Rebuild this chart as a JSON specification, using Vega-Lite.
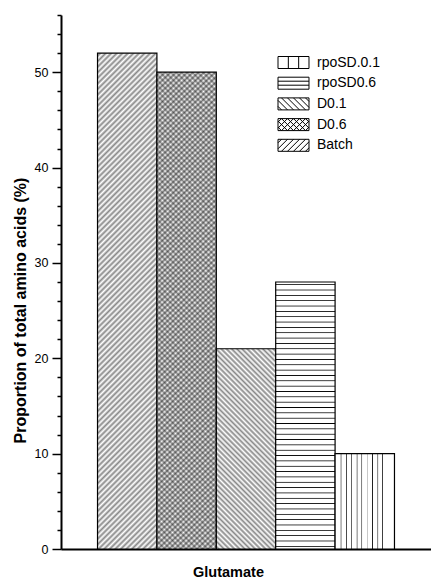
{
"$schema":"https://vega.github.io/schema/vega-lite/v6.json",
"width":370,"height":534,
"autosize":{"type":"none"},
"padding":{"left":61,"top":15,"right":0,"bottom":29},
"background":"white",
"config":{"view":{"stroke":null}},
"params":[
{"name":"gS","value":{"gradient":"linear","x1":0,"y1":0,"x2":0.1322,"y2":1.104,"stops":[
{"offset":0,"color":"#fff"},{"offset":0.005,"color":"#888"},{"offset":0.01,"color":"#fff"},{"offset":0.015,"color":"#888"},{"offset":0.02,"color":"#fff"},{"offset":0.025,"color":"#888"},{"offset":0.03,"color":"#fff"},{"offset":0.035,"color":"#888"},{"offset":0.04,"color":"#fff"},{"offset":0.045,"color":"#888"},
{"offset":0.05,"color":"#fff"},{"offset":0.055,"color":"#888"},{"offset":0.06,"color":"#fff"},{"offset":0.065,"color":"#888"},{"offset":0.07,"color":"#fff"},{"offset":0.075,"color":"#888"},{"offset":0.08,"color":"#fff"},{"offset":0.085,"color":"#888"},{"offset":0.09,"color":"#fff"},{"offset":0.095,"color":"#888"},
{"offset":0.1,"color":"#fff"},{"offset":0.105,"color":"#888"},{"offset":0.11,"color":"#fff"},{"offset":0.115,"color":"#888"},{"offset":0.12,"color":"#fff"},{"offset":0.125,"color":"#888"},{"offset":0.13,"color":"#fff"},{"offset":0.135,"color":"#888"},{"offset":0.14,"color":"#fff"},{"offset":0.145,"color":"#888"},
{"offset":0.15,"color":"#fff"},{"offset":0.155,"color":"#888"},{"offset":0.16,"color":"#fff"},{"offset":0.165,"color":"#888"},{"offset":0.17,"color":"#fff"},{"offset":0.175,"color":"#888"},{"offset":0.18,"color":"#fff"},{"offset":0.185,"color":"#888"},{"offset":0.19,"color":"#fff"},{"offset":0.195,"color":"#888"},
{"offset":0.2,"color":"#fff"},{"offset":0.205,"color":"#888"},{"offset":0.21,"color":"#fff"},{"offset":0.215,"color":"#888"},{"offset":0.22,"color":"#fff"},{"offset":0.225,"color":"#888"},{"offset":0.23,"color":"#fff"},{"offset":0.235,"color":"#888"},{"offset":0.24,"color":"#fff"},{"offset":0.245,"color":"#888"},
{"offset":0.25,"color":"#fff"},{"offset":0.255,"color":"#888"},{"offset":0.26,"color":"#fff"},{"offset":0.265,"color":"#888"},{"offset":0.27,"color":"#fff"},{"offset":0.275,"color":"#888"},{"offset":0.28,"color":"#fff"},{"offset":0.285,"color":"#888"},{"offset":0.29,"color":"#fff"},{"offset":0.295,"color":"#888"},
{"offset":0.3,"color":"#fff"},{"offset":0.305,"color":"#888"},{"offset":0.31,"color":"#fff"},{"offset":0.315,"color":"#888"},{"offset":0.32,"color":"#fff"},{"offset":0.325,"color":"#888"},{"offset":0.33,"color":"#fff"},{"offset":0.335,"color":"#888"},{"offset":0.34,"color":"#fff"},{"offset":0.345,"color":"#888"},
{"offset":0.35,"color":"#fff"},{"offset":0.355,"color":"#888"},{"offset":0.36,"color":"#fff"},{"offset":0.365,"color":"#888"},{"offset":0.37,"color":"#fff"},{"offset":0.375,"color":"#888"},{"offset":0.38,"color":"#fff"},{"offset":0.385,"color":"#888"},{"offset":0.39,"color":"#fff"},{"offset":0.395,"color":"#888"},
{"offset":0.4,"color":"#fff"},{"offset":0.405,"color":"#888"},{"offset":0.41,"color":"#fff"},{"offset":0.415,"color":"#888"},{"offset":0.42,"color":"#fff"},{"offset":0.425,"color":"#888"},{"offset":0.43,"color":"#fff"},{"offset":0.435,"color":"#888"},{"offset":0.44,"color":"#fff"},{"offset":0.445,"color":"#888"},
{"offset":0.45,"color":"#fff"},{"offset":0.455,"color":"#888"},{"offset":0.46,"color":"#fff"},{"offset":0.465,"color":"#888"},{"offset":0.47,"color":"#fff"},{"offset":0.475,"color":"#888"},{"offset":0.48,"color":"#fff"},{"offset":0.485,"color":"#888"},{"offset":0.49,"color":"#fff"},{"offset":0.495,"color":"#888"},
{"offset":0.5,"color":"#fff"},{"offset":0.505,"color":"#888"},{"offset":0.51,"color":"#fff"},{"offset":0.515,"color":"#888"},{"offset":0.52,"color":"#fff"},{"offset":0.525,"color":"#888"},{"offset":0.53,"color":"#fff"},{"offset":0.535,"color":"#888"},{"offset":0.54,"color":"#fff"},{"offset":0.545,"color":"#888"},
{"offset":0.55,"color":"#fff"},{"offset":0.555,"color":"#888"},{"offset":0.56,"color":"#fff"},{"offset":0.565,"color":"#888"},{"offset":0.57,"color":"#fff"},{"offset":0.575,"color":"#888"},{"offset":0.58,"color":"#fff"},{"offset":0.585,"color":"#888"},{"offset":0.59,"color":"#fff"},{"offset":0.595,"color":"#888"},
{"offset":0.6,"color":"#fff"},{"offset":0.605,"color":"#888"},{"offset":0.61,"color":"#fff"},{"offset":0.615,"color":"#888"},{"offset":0.62,"color":"#fff"},{"offset":0.625,"color":"#888"},{"offset":0.63,"color":"#fff"},{"offset":0.635,"color":"#888"},{"offset":0.64,"color":"#fff"},{"offset":0.645,"color":"#888"},
{"offset":0.65,"color":"#fff"},{"offset":0.655,"color":"#888"},{"offset":0.66,"color":"#fff"},{"offset":0.665,"color":"#888"},{"offset":0.67,"color":"#fff"},{"offset":0.675,"color":"#888"},{"offset":0.68,"color":"#fff"},{"offset":0.685,"color":"#888"},{"offset":0.69,"color":"#fff"},{"offset":0.695,"color":"#888"},
{"offset":0.7,"color":"#fff"},{"offset":0.705,"color":"#888"},{"offset":0.71,"color":"#fff"},{"offset":0.715,"color":"#888"},{"offset":0.72,"color":"#fff"},{"offset":0.725,"color":"#888"},{"offset":0.73,"color":"#fff"},{"offset":0.735,"color":"#888"},{"offset":0.74,"color":"#fff"},{"offset":0.745,"color":"#888"},
{"offset":0.75,"color":"#fff"},{"offset":0.755,"color":"#888"},{"offset":0.76,"color":"#fff"},{"offset":0.765,"color":"#888"},{"offset":0.77,"color":"#fff"},{"offset":0.775,"color":"#888"},{"offset":0.78,"color":"#fff"},{"offset":0.785,"color":"#888"},{"offset":0.79,"color":"#fff"},{"offset":0.795,"color":"#888"},
{"offset":0.8,"color":"#fff"},{"offset":0.805,"color":"#888"},{"offset":0.81,"color":"#fff"},{"offset":0.815,"color":"#888"},{"offset":0.82,"color":"#fff"},{"offset":0.825,"color":"#888"},{"offset":0.83,"color":"#fff"},{"offset":0.835,"color":"#888"},{"offset":0.84,"color":"#fff"},{"offset":0.845,"color":"#888"},
{"offset":0.85,"color":"#fff"},{"offset":0.855,"color":"#888"},{"offset":0.86,"color":"#fff"},{"offset":0.865,"color":"#888"},{"offset":0.87,"color":"#fff"},{"offset":0.875,"color":"#888"},{"offset":0.88,"color":"#fff"},{"offset":0.885,"color":"#888"},{"offset":0.89,"color":"#fff"},{"offset":0.895,"color":"#888"},
{"offset":0.9,"color":"#fff"},{"offset":0.905,"color":"#888"},{"offset":0.91,"color":"#fff"},{"offset":0.915,"color":"#888"},{"offset":0.92,"color":"#fff"},{"offset":0.925,"color":"#888"},{"offset":0.93,"color":"#fff"},{"offset":0.935,"color":"#888"},{"offset":0.94,"color":"#fff"},{"offset":0.945,"color":"#888"},
{"offset":0.95,"color":"#fff"},{"offset":0.955,"color":"#888"},{"offset":0.96,"color":"#fff"},{"offset":0.965,"color":"#888"},{"offset":0.97,"color":"#fff"},{"offset":0.975,"color":"#888"},{"offset":0.98,"color":"#fff"},{"offset":0.985,"color":"#888"},{"offset":0.99,"color":"#fff"},{"offset":0.995,"color":"#888"},
{"offset":1,"color":"#fff"}]}},
{"name":"gX","value":{"gradient":"linear","x1":1,"y1":0,"x2":0.862,"y2":1.1075,"stops":[
{"offset":0,"color":"transparent"},{"offset":0.005,"color":"rgba(0,0,0,0.4)"},{"offset":0.01,"color":"transparent"},{"offset":0.015,"color":"rgba(0,0,0,0.4)"},{"offset":0.02,"color":"transparent"},{"offset":0.025,"color":"rgba(0,0,0,0.4)"},{"offset":0.03,"color":"transparent"},{"offset":0.035,"color":"rgba(0,0,0,0.4)"},{"offset":0.04,"color":"transparent"},{"offset":0.045,"color":"rgba(0,0,0,0.4)"},
{"offset":0.05,"color":"transparent"},{"offset":0.055,"color":"rgba(0,0,0,0.4)"},{"offset":0.06,"color":"transparent"},{"offset":0.065,"color":"rgba(0,0,0,0.4)"},{"offset":0.07,"color":"transparent"},{"offset":0.075,"color":"rgba(0,0,0,0.4)"},{"offset":0.08,"color":"transparent"},{"offset":0.085,"color":"rgba(0,0,0,0.4)"},{"offset":0.09,"color":"transparent"},{"offset":0.095,"color":"rgba(0,0,0,0.4)"},
{"offset":0.1,"color":"transparent"},{"offset":0.105,"color":"rgba(0,0,0,0.4)"},{"offset":0.11,"color":"transparent"},{"offset":0.115,"color":"rgba(0,0,0,0.4)"},{"offset":0.12,"color":"transparent"},{"offset":0.125,"color":"rgba(0,0,0,0.4)"},{"offset":0.13,"color":"transparent"},{"offset":0.135,"color":"rgba(0,0,0,0.4)"},{"offset":0.14,"color":"transparent"},{"offset":0.145,"color":"rgba(0,0,0,0.4)"},
{"offset":0.15,"color":"transparent"},{"offset":0.155,"color":"rgba(0,0,0,0.4)"},{"offset":0.16,"color":"transparent"},{"offset":0.165,"color":"rgba(0,0,0,0.4)"},{"offset":0.17,"color":"transparent"},{"offset":0.175,"color":"rgba(0,0,0,0.4)"},{"offset":0.18,"color":"transparent"},{"offset":0.185,"color":"rgba(0,0,0,0.4)"},{"offset":0.19,"color":"transparent"},{"offset":0.195,"color":"rgba(0,0,0,0.4)"},
{"offset":0.2,"color":"transparent"},{"offset":0.205,"color":"rgba(0,0,0,0.4)"},{"offset":0.21,"color":"transparent"},{"offset":0.215,"color":"rgba(0,0,0,0.4)"},{"offset":0.22,"color":"transparent"},{"offset":0.225,"color":"rgba(0,0,0,0.4)"},{"offset":0.23,"color":"transparent"},{"offset":0.235,"color":"rgba(0,0,0,0.4)"},{"offset":0.24,"color":"transparent"},{"offset":0.245,"color":"rgba(0,0,0,0.4)"},
{"offset":0.25,"color":"transparent"},{"offset":0.255,"color":"rgba(0,0,0,0.4)"},{"offset":0.26,"color":"transparent"},{"offset":0.265,"color":"rgba(0,0,0,0.4)"},{"offset":0.27,"color":"transparent"},{"offset":0.275,"color":"rgba(0,0,0,0.4)"},{"offset":0.28,"color":"transparent"},{"offset":0.285,"color":"rgba(0,0,0,0.4)"},{"offset":0.29,"color":"transparent"},{"offset":0.295,"color":"rgba(0,0,0,0.4)"},
{"offset":0.3,"color":"transparent"},{"offset":0.305,"color":"rgba(0,0,0,0.4)"},{"offset":0.31,"color":"transparent"},{"offset":0.315,"color":"rgba(0,0,0,0.4)"},{"offset":0.32,"color":"transparent"},{"offset":0.325,"color":"rgba(0,0,0,0.4)"},{"offset":0.33,"color":"transparent"},{"offset":0.335,"color":"rgba(0,0,0,0.4)"},{"offset":0.34,"color":"transparent"},{"offset":0.345,"color":"rgba(0,0,0,0.4)"},
{"offset":0.35,"color":"transparent"},{"offset":0.355,"color":"rgba(0,0,0,0.4)"},{"offset":0.36,"color":"transparent"},{"offset":0.365,"color":"rgba(0,0,0,0.4)"},{"offset":0.37,"color":"transparent"},{"offset":0.375,"color":"rgba(0,0,0,0.4)"},{"offset":0.38,"color":"transparent"},{"offset":0.385,"color":"rgba(0,0,0,0.4)"},{"offset":0.39,"color":"transparent"},{"offset":0.395,"color":"rgba(0,0,0,0.4)"},
{"offset":0.4,"color":"transparent"},{"offset":0.405,"color":"rgba(0,0,0,0.4)"},{"offset":0.41,"color":"transparent"},{"offset":0.415,"color":"rgba(0,0,0,0.4)"},{"offset":0.42,"color":"transparent"},{"offset":0.425,"color":"rgba(0,0,0,0.4)"},{"offset":0.43,"color":"transparent"},{"offset":0.435,"color":"rgba(0,0,0,0.4)"},{"offset":0.44,"color":"transparent"},{"offset":0.445,"color":"rgba(0,0,0,0.4)"},
{"offset":0.45,"color":"transparent"},{"offset":0.455,"color":"rgba(0,0,0,0.4)"},{"offset":0.46,"color":"transparent"},{"offset":0.465,"color":"rgba(0,0,0,0.4)"},{"offset":0.47,"color":"transparent"},{"offset":0.475,"color":"rgba(0,0,0,0.4)"},{"offset":0.48,"color":"transparent"},{"offset":0.485,"color":"rgba(0,0,0,0.4)"},{"offset":0.49,"color":"transparent"},{"offset":0.495,"color":"rgba(0,0,0,0.4)"},
{"offset":0.5,"color":"transparent"},{"offset":0.505,"color":"rgba(0,0,0,0.4)"},{"offset":0.51,"color":"transparent"},{"offset":0.515,"color":"rgba(0,0,0,0.4)"},{"offset":0.52,"color":"transparent"},{"offset":0.525,"color":"rgba(0,0,0,0.4)"},{"offset":0.53,"color":"transparent"},{"offset":0.535,"color":"rgba(0,0,0,0.4)"},{"offset":0.54,"color":"transparent"},{"offset":0.545,"color":"rgba(0,0,0,0.4)"},
{"offset":0.55,"color":"transparent"},{"offset":0.555,"color":"rgba(0,0,0,0.4)"},{"offset":0.56,"color":"transparent"},{"offset":0.565,"color":"rgba(0,0,0,0.4)"},{"offset":0.57,"color":"transparent"},{"offset":0.575,"color":"rgba(0,0,0,0.4)"},{"offset":0.58,"color":"transparent"},{"offset":0.585,"color":"rgba(0,0,0,0.4)"},{"offset":0.59,"color":"transparent"},{"offset":0.595,"color":"rgba(0,0,0,0.4)"},
{"offset":0.6,"color":"transparent"},{"offset":0.605,"color":"rgba(0,0,0,0.4)"},{"offset":0.61,"color":"transparent"},{"offset":0.615,"color":"rgba(0,0,0,0.4)"},{"offset":0.62,"color":"transparent"},{"offset":0.625,"color":"rgba(0,0,0,0.4)"},{"offset":0.63,"color":"transparent"},{"offset":0.635,"color":"rgba(0,0,0,0.4)"},{"offset":0.64,"color":"transparent"},{"offset":0.645,"color":"rgba(0,0,0,0.4)"},
{"offset":0.65,"color":"transparent"},{"offset":0.655,"color":"rgba(0,0,0,0.4)"},{"offset":0.66,"color":"transparent"},{"offset":0.665,"color":"rgba(0,0,0,0.4)"},{"offset":0.67,"color":"transparent"},{"offset":0.675,"color":"rgba(0,0,0,0.4)"},{"offset":0.68,"color":"transparent"},{"offset":0.685,"color":"rgba(0,0,0,0.4)"},{"offset":0.69,"color":"transparent"},{"offset":0.695,"color":"rgba(0,0,0,0.4)"},
{"offset":0.7,"color":"transparent"},{"offset":0.705,"color":"rgba(0,0,0,0.4)"},{"offset":0.71,"color":"transparent"},{"offset":0.715,"color":"rgba(0,0,0,0.4)"},{"offset":0.72,"color":"transparent"},{"offset":0.725,"color":"rgba(0,0,0,0.4)"},{"offset":0.73,"color":"transparent"},{"offset":0.735,"color":"rgba(0,0,0,0.4)"},{"offset":0.74,"color":"transparent"},{"offset":0.745,"color":"rgba(0,0,0,0.4)"},
{"offset":0.75,"color":"transparent"},{"offset":0.755,"color":"rgba(0,0,0,0.4)"},{"offset":0.76,"color":"transparent"},{"offset":0.765,"color":"rgba(0,0,0,0.4)"},{"offset":0.77,"color":"transparent"},{"offset":0.775,"color":"rgba(0,0,0,0.4)"},{"offset":0.78,"color":"transparent"},{"offset":0.785,"color":"rgba(0,0,0,0.4)"},{"offset":0.79,"color":"transparent"},{"offset":0.795,"color":"rgba(0,0,0,0.4)"},
{"offset":0.8,"color":"transparent"},{"offset":0.805,"color":"rgba(0,0,0,0.4)"},{"offset":0.81,"color":"transparent"},{"offset":0.815,"color":"rgba(0,0,0,0.4)"},{"offset":0.82,"color":"transparent"},{"offset":0.825,"color":"rgba(0,0,0,0.4)"},{"offset":0.83,"color":"transparent"},{"offset":0.835,"color":"rgba(0,0,0,0.4)"},{"offset":0.84,"color":"transparent"},{"offset":0.845,"color":"rgba(0,0,0,0.4)"},
{"offset":0.85,"color":"transparent"},{"offset":0.855,"color":"rgba(0,0,0,0.4)"},{"offset":0.86,"color":"transparent"},{"offset":0.865,"color":"rgba(0,0,0,0.4)"},{"offset":0.87,"color":"transparent"},{"offset":0.875,"color":"rgba(0,0,0,0.4)"},{"offset":0.88,"color":"transparent"},{"offset":0.885,"color":"rgba(0,0,0,0.4)"},{"offset":0.89,"color":"transparent"},{"offset":0.895,"color":"rgba(0,0,0,0.4)"},
{"offset":0.9,"color":"transparent"},{"offset":0.905,"color":"rgba(0,0,0,0.4)"},{"offset":0.91,"color":"transparent"},{"offset":0.915,"color":"rgba(0,0,0,0.4)"},{"offset":0.92,"color":"transparent"},{"offset":0.925,"color":"rgba(0,0,0,0.4)"},{"offset":0.93,"color":"transparent"},{"offset":0.935,"color":"rgba(0,0,0,0.4)"},{"offset":0.94,"color":"transparent"},{"offset":0.945,"color":"rgba(0,0,0,0.4)"},
{"offset":0.95,"color":"transparent"},{"offset":0.955,"color":"rgba(0,0,0,0.4)"},{"offset":0.96,"color":"transparent"},{"offset":0.965,"color":"rgba(0,0,0,0.4)"},{"offset":0.97,"color":"transparent"},{"offset":0.975,"color":"rgba(0,0,0,0.4)"},{"offset":0.98,"color":"transparent"},{"offset":0.985,"color":"rgba(0,0,0,0.4)"},{"offset":0.99,"color":"transparent"},{"offset":0.995,"color":"rgba(0,0,0,0.4)"},
{"offset":1,"color":"transparent"}]}},
{"name":"gD","value":{"gradient":"linear","x1":1,"y1":0,"x2":0.6466,"y2":1.1918,"stops":[
{"offset":0,"color":"#fff"},{"offset":0.01,"color":"#888"},{"offset":0.02,"color":"#fff"},{"offset":0.03,"color":"#888"},{"offset":0.04,"color":"#fff"},{"offset":0.05,"color":"#888"},{"offset":0.06,"color":"#fff"},{"offset":0.07,"color":"#888"},{"offset":0.08,"color":"#fff"},{"offset":0.09,"color":"#888"},
{"offset":0.1,"color":"#fff"},{"offset":0.11,"color":"#888"},{"offset":0.12,"color":"#fff"},{"offset":0.13,"color":"#888"},{"offset":0.14,"color":"#fff"},{"offset":0.15,"color":"#888"},{"offset":0.16,"color":"#fff"},{"offset":0.17,"color":"#888"},{"offset":0.18,"color":"#fff"},{"offset":0.19,"color":"#888"},
{"offset":0.2,"color":"#fff"},{"offset":0.21,"color":"#888"},{"offset":0.22,"color":"#fff"},{"offset":0.23,"color":"#888"},{"offset":0.24,"color":"#fff"},{"offset":0.25,"color":"#888"},{"offset":0.26,"color":"#fff"},{"offset":0.27,"color":"#888"},{"offset":0.28,"color":"#fff"},{"offset":0.29,"color":"#888"},
{"offset":0.3,"color":"#fff"},{"offset":0.31,"color":"#888"},{"offset":0.32,"color":"#fff"},{"offset":0.33,"color":"#888"},{"offset":0.34,"color":"#fff"},{"offset":0.35,"color":"#888"},{"offset":0.36,"color":"#fff"},{"offset":0.37,"color":"#888"},{"offset":0.38,"color":"#fff"},{"offset":0.39,"color":"#888"},
{"offset":0.4,"color":"#fff"},{"offset":0.41,"color":"#888"},{"offset":0.42,"color":"#fff"},{"offset":0.43,"color":"#888"},{"offset":0.44,"color":"#fff"},{"offset":0.45,"color":"#888"},{"offset":0.46,"color":"#fff"},{"offset":0.47,"color":"#888"},{"offset":0.48,"color":"#fff"},{"offset":0.49,"color":"#888"},
{"offset":0.5,"color":"#fff"},{"offset":0.51,"color":"#888"},{"offset":0.52,"color":"#fff"},{"offset":0.53,"color":"#888"},{"offset":0.54,"color":"#fff"},{"offset":0.55,"color":"#888"},{"offset":0.56,"color":"#fff"},{"offset":0.57,"color":"#888"},{"offset":0.58,"color":"#fff"},{"offset":0.59,"color":"#888"},
{"offset":0.6,"color":"#fff"},{"offset":0.61,"color":"#888"},{"offset":0.62,"color":"#fff"},{"offset":0.63,"color":"#888"},{"offset":0.64,"color":"#fff"},{"offset":0.65,"color":"#888"},{"offset":0.66,"color":"#fff"},{"offset":0.67,"color":"#888"},{"offset":0.68,"color":"#fff"},{"offset":0.69,"color":"#888"},
{"offset":0.7,"color":"#fff"},{"offset":0.71,"color":"#888"},{"offset":0.72,"color":"#fff"},{"offset":0.73,"color":"#888"},{"offset":0.74,"color":"#fff"},{"offset":0.75,"color":"#888"},{"offset":0.76,"color":"#fff"},{"offset":0.77,"color":"#888"},{"offset":0.78,"color":"#fff"},{"offset":0.79,"color":"#888"},
{"offset":0.8,"color":"#fff"},{"offset":0.81,"color":"#888"},{"offset":0.82,"color":"#fff"},{"offset":0.83,"color":"#888"},{"offset":0.84,"color":"#fff"},{"offset":0.85,"color":"#888"},{"offset":0.86,"color":"#fff"},{"offset":0.87,"color":"#888"},{"offset":0.88,"color":"#fff"},{"offset":0.89,"color":"#888"},
{"offset":0.9,"color":"#fff"},{"offset":0.91,"color":"#888"},{"offset":0.92,"color":"#fff"},{"offset":0.93,"color":"#888"},{"offset":0.94,"color":"#fff"},{"offset":0.95,"color":"#888"},{"offset":0.96,"color":"#fff"},{"offset":0.97,"color":"#888"},{"offset":0.98,"color":"#fff"},{"offset":0.99,"color":"#888"},
{"offset":1,"color":"#fff"}]}},
{"name":"gH","value":{"gradient":"linear","x1":0,"y1":0,"x2":0,"y2":1,"stops":[
{"offset":0.007,"color":"#fff"},{"offset":0.01,"color":"#000"},{"offset":0.013,"color":"#fff"},{"offset":0.027,"color":"#fff"},{"offset":0.03,"color":"#000"},{"offset":0.033,"color":"#fff"},
{"offset":0.047,"color":"#fff"},{"offset":0.05,"color":"#000"},{"offset":0.053,"color":"#fff"},{"offset":0.067,"color":"#fff"},{"offset":0.07,"color":"#000"},{"offset":0.073,"color":"#fff"},
{"offset":0.087,"color":"#fff"},{"offset":0.09,"color":"#000"},{"offset":0.093,"color":"#fff"},{"offset":0.107,"color":"#fff"},{"offset":0.11,"color":"#000"},{"offset":0.113,"color":"#fff"},
{"offset":0.127,"color":"#fff"},{"offset":0.13,"color":"#000"},{"offset":0.133,"color":"#fff"},{"offset":0.147,"color":"#fff"},{"offset":0.15,"color":"#000"},{"offset":0.153,"color":"#fff"},
{"offset":0.167,"color":"#fff"},{"offset":0.17,"color":"#000"},{"offset":0.173,"color":"#fff"},{"offset":0.187,"color":"#fff"},{"offset":0.19,"color":"#000"},{"offset":0.193,"color":"#fff"},
{"offset":0.207,"color":"#fff"},{"offset":0.21,"color":"#000"},{"offset":0.213,"color":"#fff"},{"offset":0.227,"color":"#fff"},{"offset":0.23,"color":"#000"},{"offset":0.233,"color":"#fff"},
{"offset":0.247,"color":"#fff"},{"offset":0.25,"color":"#000"},{"offset":0.253,"color":"#fff"},{"offset":0.267,"color":"#fff"},{"offset":0.27,"color":"#000"},{"offset":0.273,"color":"#fff"},
{"offset":0.287,"color":"#fff"},{"offset":0.29,"color":"#000"},{"offset":0.293,"color":"#fff"},{"offset":0.307,"color":"#fff"},{"offset":0.31,"color":"#000"},{"offset":0.313,"color":"#fff"},
{"offset":0.327,"color":"#fff"},{"offset":0.33,"color":"#000"},{"offset":0.333,"color":"#fff"},{"offset":0.347,"color":"#fff"},{"offset":0.35,"color":"#000"},{"offset":0.353,"color":"#fff"},
{"offset":0.367,"color":"#fff"},{"offset":0.37,"color":"#000"},{"offset":0.373,"color":"#fff"},{"offset":0.387,"color":"#fff"},{"offset":0.39,"color":"#000"},{"offset":0.393,"color":"#fff"},
{"offset":0.407,"color":"#fff"},{"offset":0.41,"color":"#000"},{"offset":0.413,"color":"#fff"},{"offset":0.427,"color":"#fff"},{"offset":0.43,"color":"#000"},{"offset":0.433,"color":"#fff"},
{"offset":0.447,"color":"#fff"},{"offset":0.45,"color":"#000"},{"offset":0.453,"color":"#fff"},{"offset":0.467,"color":"#fff"},{"offset":0.47,"color":"#000"},{"offset":0.473,"color":"#fff"},
{"offset":0.487,"color":"#fff"},{"offset":0.49,"color":"#000"},{"offset":0.493,"color":"#fff"},{"offset":0.507,"color":"#fff"},{"offset":0.51,"color":"#000"},{"offset":0.513,"color":"#fff"},
{"offset":0.527,"color":"#fff"},{"offset":0.53,"color":"#000"},{"offset":0.533,"color":"#fff"},{"offset":0.547,"color":"#fff"},{"offset":0.55,"color":"#000"},{"offset":0.553,"color":"#fff"},
{"offset":0.567,"color":"#fff"},{"offset":0.57,"color":"#000"},{"offset":0.573,"color":"#fff"},{"offset":0.587,"color":"#fff"},{"offset":0.59,"color":"#000"},{"offset":0.593,"color":"#fff"},
{"offset":0.607,"color":"#fff"},{"offset":0.61,"color":"#000"},{"offset":0.613,"color":"#fff"},{"offset":0.627,"color":"#fff"},{"offset":0.63,"color":"#000"},{"offset":0.633,"color":"#fff"},
{"offset":0.647,"color":"#fff"},{"offset":0.65,"color":"#000"},{"offset":0.653,"color":"#fff"},{"offset":0.667,"color":"#fff"},{"offset":0.67,"color":"#000"},{"offset":0.673,"color":"#fff"},
{"offset":0.687,"color":"#fff"},{"offset":0.69,"color":"#000"},{"offset":0.693,"color":"#fff"},{"offset":0.707,"color":"#fff"},{"offset":0.71,"color":"#000"},{"offset":0.713,"color":"#fff"},
{"offset":0.727,"color":"#fff"},{"offset":0.73,"color":"#000"},{"offset":0.733,"color":"#fff"},{"offset":0.747,"color":"#fff"},{"offset":0.75,"color":"#000"},{"offset":0.753,"color":"#fff"},
{"offset":0.767,"color":"#fff"},{"offset":0.77,"color":"#000"},{"offset":0.773,"color":"#fff"},{"offset":0.787,"color":"#fff"},{"offset":0.79,"color":"#000"},{"offset":0.793,"color":"#fff"},
{"offset":0.807,"color":"#fff"},{"offset":0.81,"color":"#000"},{"offset":0.813,"color":"#fff"},{"offset":0.827,"color":"#fff"},{"offset":0.83,"color":"#000"},{"offset":0.833,"color":"#fff"},
{"offset":0.847,"color":"#fff"},{"offset":0.85,"color":"#000"},{"offset":0.853,"color":"#fff"},{"offset":0.867,"color":"#fff"},{"offset":0.87,"color":"#000"},{"offset":0.873,"color":"#fff"},
{"offset":0.887,"color":"#fff"},{"offset":0.89,"color":"#000"},{"offset":0.893,"color":"#fff"},{"offset":0.907,"color":"#fff"},{"offset":0.91,"color":"#000"},{"offset":0.913,"color":"#fff"},
{"offset":0.927,"color":"#fff"},{"offset":0.93,"color":"#000"},{"offset":0.933,"color":"#fff"},{"offset":0.947,"color":"#fff"},{"offset":0.95,"color":"#000"},{"offset":0.953,"color":"#fff"},
{"offset":0.967,"color":"#fff"},{"offset":0.97,"color":"#000"},{"offset":0.973,"color":"#fff"},{"offset":0.987,"color":"#fff"},{"offset":0.99,"color":"#000"},{"offset":0.993,"color":"#fff"}]}},
{"name":"gV","value":{"gradient":"linear","x1":0,"y1":0,"x2":1,"y2":0,"stops":[
{"offset":0.088,"color":"#fff"},{"offset":0.1,"color":"#222"},{"offset":0.112,"color":"#fff"},
{"offset":0.178,"color":"#fff"},{"offset":0.19,"color":"#222"},{"offset":0.202,"color":"#fff"},
{"offset":0.268,"color":"#fff"},{"offset":0.28,"color":"#222"},{"offset":0.292,"color":"#fff"},
{"offset":0.358,"color":"#fff"},{"offset":0.37,"color":"#222"},{"offset":0.382,"color":"#fff"},
{"offset":0.438,"color":"#fff"},{"offset":0.45,"color":"#222"},{"offset":0.462,"color":"#fff"},
{"offset":0.538,"color":"#fff"},{"offset":0.55,"color":"#aaa"},{"offset":0.562,"color":"#fff"},
{"offset":0.618,"color":"#fff"},{"offset":0.63,"color":"#222"},{"offset":0.642,"color":"#fff"},
{"offset":0.708,"color":"#fff"},{"offset":0.72,"color":"#222"},{"offset":0.732,"color":"#fff"},
{"offset":0.788,"color":"#fff"},{"offset":0.8,"color":"#222"},{"offset":0.812,"color":"#fff"}]}}
],
"data":{"values":[
{"k":"Batch","v":52},
{"k":"D0.6","v":50},
{"k":"D0.1","v":21},
{"k":"rpoSD0.6","v":28},
{"k":"rpoSD.0.1","v":10}
]},
"encoding":{
"x":{"field":"k","type":"nominal",
"scale":{"domain":["Batch","D0.6","D0.1","rpoSD0.6","rpoSD.0.1"],"paddingInner":0,"paddingOuter":0.615},
"axis":{"title":"Glutamate","labels":false,"ticks":false,"domainColor":"black","domainWidth":2,"titleFont":"Liberation Sans","titleFontSize":14.5,"titleFontWeight":"bold","titleColor":"black","titlePadding":16,"titleX":167}},
"y":{"field":"v","type":"quantitative",
"scale":{"domain":[0,56],"nice":false,"zero":true},
"axis":{"values":[0,2,4,6,8,10,12,14,16,18,20,22,24,26,28,30,32,34,36,38,40,42,44,46,48,50,52,54,56],
"labelExpr":"datum.value % 10 == 0 ? datum.label : ''",
"tickSize":{"condition":{"test":"datum.value % 10 == 0","value":9},"value":4},
"tickColor":"black","tickWidth":1.5,"domainColor":"black","domainWidth":2,"grid":false,
"labelFont":"Liberation Sans","labelFontSize":12.5,"labelColor":"black","labelPadding":4,"labelOverlap":false,
"title":"Proportion of total amino acids (%)","titleFont":"Liberation Sans","titleFontSize":16,"titleFontWeight":"bold","titleColor":"black",
"titleX":-41,"titleY":295,"titleAlign":"center","titleBaseline":"middle","titleAngle":270}}
},
"layer":[
{"mark":{"type":"bar","fill":{"expr":"datum.k=='D0.1'?gD:datum.k=='rpoSD0.6'?gH:datum.k=='rpoSD.0.1'?gV:gS"},"stroke":"black","strokeWidth":1.2}},
{"transform":[{"filter":"datum.k=='D0.6'"}],
 "mark":{"type":"bar","fill":{"expr":"gX"},"strokeWidth":0}},
{"mark":{"type":"point","opacity":0},
 "encoding":{"shape":{"field":"k","type":"nominal",
  "scale":{"domain":["rpoSD.0.1","rpoSD0.6","D0.1","D0.6","Batch"],
   "range":[
    "M-2.583,-1H2.583V1H-2.583ZM-0.861,-1V1M0.861,-1V1",
    "M-2.583,-1H2.583V1H-2.583ZM-2.583,-0.333H2.583M-2.583,0.333H2.583",
    "M-2.583,-1H2.583V1H-2.583ZM2.583,-0.417L2,-1M2.583,0.583L1,-1M2,1L0,-1M1,1L-1,-1M0,1L-2,-1M-1,1L-2.583,-0.583M-2,1L-2.583,0.417",
    "M-2.583,-1H2.583V1H-2.583ZM2.583,-0.417L2,-1M2.583,0.583L1,-1M2,1L0,-1M1,1L-1,-1M0,1L-2,-1M-1,1L-2.583,-0.583M-2,1L-2.583,0.417M-2.583,-0.417L-2,-1M-2.583,0.583L-1,-1M-2,1L0,-1M-1,1L1,-1M0,1L2,-1M1,1L2.583,-0.583M2,1L2.583,0.417",
    "M-2.583,-1H2.583V1H-2.583ZM-2.583,-0.417L-2,-1M-2.583,0.583L-1,-1M-2,1L0,-1M-1,1L1,-1M0,1L2,-1M1,1L2.583,-0.583M2,1L2.583,0.417"]},
  "legend":{"title":null,"orient":"none","legendX":225.5,"legendY":40.5,"padding":0,
   "symbolSize":144,"symbolFillColor":"white","symbolStrokeColor":"black","symbolStrokeWidth":1,"symbolOpacity":1,
   "labelFont":"Liberation Sans","labelFontSize":14,"labelColor":"black","labelOffset":16.5,"rowPadding":4.7,
   "encode":{"symbols":{"update":{"fill":{"value":"white"},"stroke":{"value":"black"},"strokeWidth":{"value":1},"opacity":{"value":1}}}}}}}}
]
}
